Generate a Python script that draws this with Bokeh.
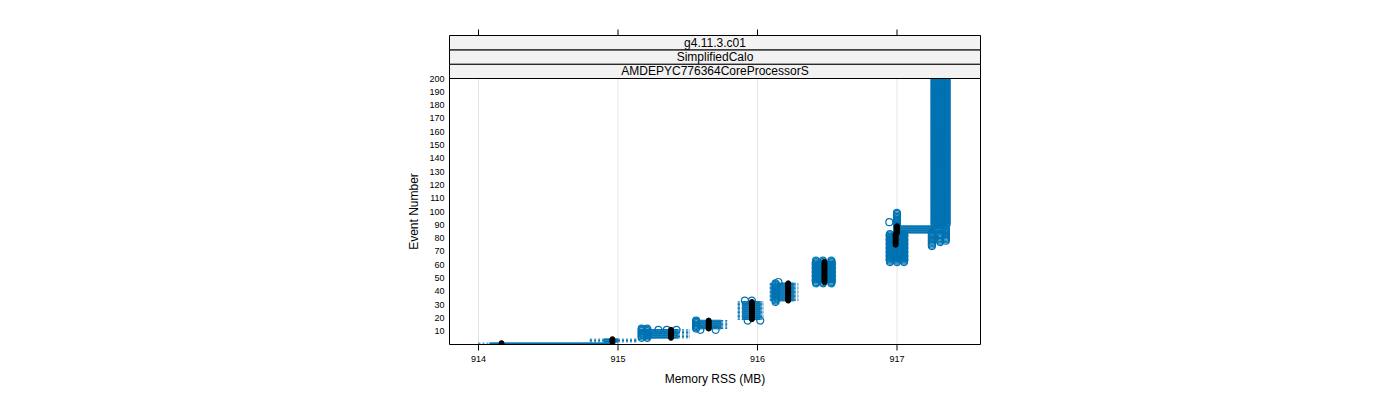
import math
from bokeh.plotting import figure
from bokeh.models import Range1d
from bokeh.embed import file_html
from bokeh.resources import INLINE
from bokeh.core.properties import value

# ---------------- data ----------------
# per-group box statistics (event-number ranges sharing similar values)
grp_start = [1, 2, 5, 12, 19, 33, 47, 63, 75, 84, 90]
grp_end = [1, 4, 11, 18, 32, 46, 62, 74, 83, 89, 200]
grp_lo = [914.00, 914.80, 915.16, 915.54, 915.86, 916.09, 916.39, 916.92, 916.92, 916.99, 917.25]
grp_q1 = [914.08, 914.90, 915.20, 915.58, 915.89, 916.14, 916.41, 916.94, 916.94, 917.00, 917.26]
grp_med = [914.165, 914.96, 915.38, 915.65, 915.96, 916.22, 916.48, 916.99, 916.99, 917.00, 917.31]
grp_q3 = [914.97, 915.00, 915.43, 915.74, 916.02, 916.26, 916.55, 917.07, 917.07, 917.33, 917.36]
grp_hi = [915.00, 915.13, 915.51, 915.78, 916.04, 916.29, 916.56, 917.08, 917.08, 917.35, 917.36]
grp_med_shown = [True, True, True, True, True, True, True, False, True, True, False]

# outliers: memory value and the event range in which it appears
out_x = [915.17, 915.21, 915.29, 915.35, 915.42,
         915.56, 915.59, 915.70,
         915.91, 915.96, 915.93, 916.02,
         916.13, 916.15,
         916.42, 916.47, 916.53,
         916.95, 917.00, 917.05,
         917.00, 916.945,
         917.27, 917.31, 917.355,
         917.25, 917.31, 917.35]
out_from = [5, 5, 11, 11, 11,
            12, 11, 11,
            33, 33, 18, 18,
            32, 47,
            46, 46, 46,
            62, 62, 62,
            84, 92,
            90, 90, 90,
            74, 77, 78]
out_to = [12, 12, 11, 11, 11,
          18, 11, 11,
          33, 33, 18, 18,
          46, 47,
          63, 63, 63,
          83, 83, 83,
          99, 92,
          200, 200, 200,
          84, 83, 87]

x_ticks = [914, 915, 916, 917]
x_tick_labels = ["914", "915", "916", "917"]
y_ticks = [10, 20, 30, 40, 50, 60, 70, 80, 90, 100,
           110, 120, 130, 140, 150, 160, 170, 180, 190, 200]
y_tick_labels = [str(t) for t in y_ticks]
strip_labels = ["AMDEPYC776364CoreProcessorS", "SimplifiedCalo", "g4.11.3.c01"]
x_title = "Memory RSS (MB)"
y_title = "Event Number"

# ---------------- expand groups to events ----------------
ev, lo, q1, md, q3, hi, shown = [], [], [], [], [], [], []
for i in range(len(grp_start)):
    for e in range(grp_start[i], grp_end[i] + 1):
        ev.append(e); lo.append(grp_lo[i]); q1.append(grp_q1[i]); md.append(grp_med[i])
        q3.append(grp_q3[i]); hi.append(grp_hi[i]); shown.append(grp_med_shown[i])

ox, oy = [], []
for i in range(len(out_x)):
    for e in range(out_from[i], out_to[i] + 1):
        ox.append(out_x[i]); oy.append(e)

BLUE = "#0072B2"
FONT = "Liberation Sans"

# ---------------- layout: the whole canvas is the frame ----------------
W, H = 1400, 400
PX_X = 139.5          # pixels per MB
X0_PX = 478           # pixel of 914 MB
PX_Y = 1.33           # pixels per event
Y0_PX = 344           # pixel of event 0


def dx(px):
    return 914 + (px - X0_PX) / PX_X


def dy(py):
    return (Y0_PX - py) / PX_Y


panel_l, panel_r, panel_t, panel_b = dx(449), dx(980), dy(78), dy(344)
strip_top = dy(35)
tick_top = dy(29)
tick_bot = dy(350)

p = figure(width=W, height=H, output_backend="svg", toolbar_location=None,
           x_range=Range1d(dx(0), dx(W)), y_range=Range1d(dy(H), dy(0)),
           min_border=0, min_border_left=0, min_border_right=0,
           min_border_top=0, min_border_bottom=0)
p.axis.visible = False
p.grid.visible = False
p.outline_line_color = None
p.background_fill_color = "white"
p.border_fill_color = "white"

# grid lines
p.segment(x0=x_ticks, x1=x_ticks, y0=[panel_b] * len(x_ticks), y1=[panel_t] * len(x_ticks),
          line_color="#e6e6e6", line_width=1)

# whiskers
p.segment(x0=lo, x1=q1, y0=ev, y1=ev, line_color=BLUE, line_width=1, line_dash="2 2")
p.segment(x0=q3, x1=hi, y0=ev, y1=ev, line_color=BLUE, line_width=1, line_dash="2 2")
# umbrella ends
p.segment(x0=lo, x1=lo, y0=[e - 0.25 for e in ev], y1=[e + 0.25 for e in ev], line_color=BLUE, line_width=1)
p.segment(x0=hi, x1=hi, y0=[e - 0.25 for e in ev], y1=[e + 0.25 for e in ev], line_color=BLUE, line_width=1)
# boxes
p.quad(left=q1, right=q3, bottom=[e - 0.25 for e in ev], top=[e + 0.25 for e in ev],
       fill_color=None, line_color=BLUE, line_width=1)
# outliers
p.scatter(x=ox, y=oy, marker="circle", size=7, fill_color=None, line_color=BLUE, line_width=1.2)
# medians
mx = [m for m, s in zip(md, shown) if s]
my = [e for e, s in zip(ev, shown) if s]
p.scatter(x=mx, y=my, marker="circle", size=5, fill_color="black", line_color="black")

# mask anything spilling below the panel
p.quad(left=[panel_l - 0.05], right=[panel_r + 0.05], bottom=[dy(352)], top=[panel_b],
       fill_color="white", line_color=None)

# strips
sh = (strip_top - panel_t) / 3
sb = [panel_t + i * sh for i in range(3)]
p.quad(left=[panel_l] * 3, right=[panel_r] * 3, bottom=sb, top=[b + sh for b in sb],
       fill_color="#f2f2f2", line_color="black", line_width=1)
p.text(x=[(panel_l + panel_r) / 2] * 3, y=[b + sh / 2 for b in sb], text=strip_labels,
       text_align="center", text_baseline="middle", text_font_size="12px",
       text_font=value(FONT), text_color="black")

# panel border
p.quad(left=[panel_l], right=[panel_r], bottom=[panel_b], top=[panel_t],
       fill_color=None, line_color="black", line_width=1)

# ticks (top and bottom)
p.segment(x0=x_ticks, x1=x_ticks, y0=[strip_top] * 4, y1=[tick_top] * 4, line_color="black", line_width=1)
p.segment(x0=x_ticks, x1=x_ticks, y0=[panel_b] * 4, y1=[tick_bot] * 4, line_color="black", line_width=1)

# tick labels
p.text(x=x_ticks, y=[dy(358)] * 4, text=x_tick_labels, text_align="center", text_baseline="middle",
       text_font_size="9px", text_font=value(FONT), text_color="black")
p.text(x=[dx(444)] * len(y_ticks), y=y_ticks, text=y_tick_labels, text_align="right",
       text_baseline="middle", text_font_size="9px", text_font=value(FONT), text_color="black")

# axis titles
p.text(x=[(panel_l + panel_r) / 2], y=[dy(378)], text=[x_title], text_align="center",
       text_baseline="middle", text_font_size="12px", text_font=value(FONT), text_color="black")
p.text(x=[dx(413)], y=[(panel_t + panel_b) / 2], text=[y_title], angle=math.pi / 2,
       text_align="center", text_baseline="middle", text_font_size="12px",
       text_font=value(FONT), text_color="black")

open("out.html", "w").write(file_html(p, INLINE))
